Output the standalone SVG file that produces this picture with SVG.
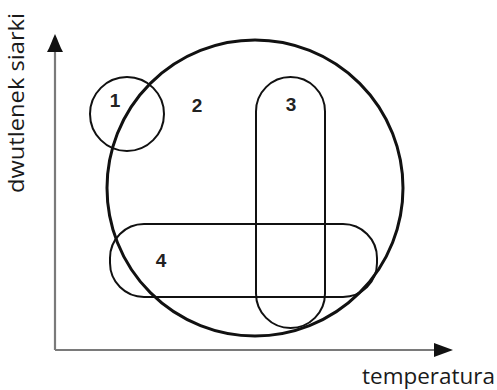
<svg xmlns="http://www.w3.org/2000/svg" width="497" height="390" viewBox="0 0 497 390">
<style>
.ax{stroke:#7a7a7a;stroke-width:2.2;fill:none}
.big{stroke:#111;stroke-width:3;fill:none}
.sh{stroke:#111;stroke-width:2;fill:none}
.num{font-family:"Liberation Sans",Arial,sans-serif;font-size:19px;font-weight:bold;fill:#222;text-anchor:middle}
.lab{font-family:"Open Sans","Liberation Sans",sans-serif;font-size:22px;font-weight:500;fill:#1a1a1a}
</style>
<rect width="497" height="390" fill="#fff"/>
<g id="connectors">
<path class="ax" d="M55,350 V50 M55,350 H436"/>
<path d="M55,34 C58,40 60,47 63,52 H47 C50,47 52,40 55,34 Z" fill="#111"/>
<path d="M453,350 L434,343 V357 Z" fill="#111"/>
</g>
<g id="node2"><circle class="big" cx="255" cy="188" r="148"/><text class="num" x="197" y="112">2</text></g>
<g id="node1"><circle class="sh" cx="127" cy="114" r="37"/><text class="num" x="115" y="107">1</text></g>
<g id="node3"><rect class="sh" x="256" y="77" width="69" height="251" rx="34.5"/><text class="num" x="291" y="111">3</text></g>
<g id="node4"><rect class="sh" x="110" y="224" width="267" height="73" rx="34"/><text class="num" x="161" y="267">4</text></g>
<g id="axislabels">
<text class="lab" transform="translate(24,193) rotate(-90)" textLength="180" lengthAdjust="spacingAndGlyphs">dwutlenek siarki</text>
<text class="lab" x="362" y="384" textLength="133" lengthAdjust="spacingAndGlyphs">temperatura</text>
</g>
</svg>
